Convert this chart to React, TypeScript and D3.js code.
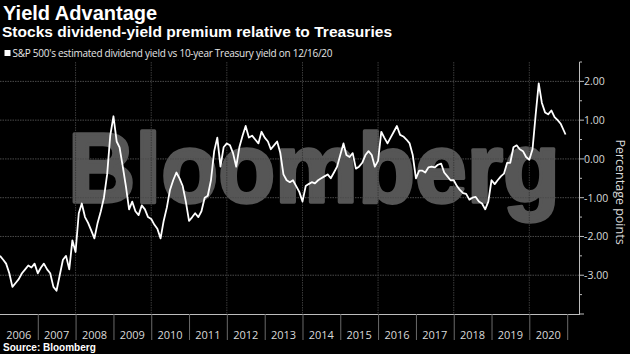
import { useEffect, useRef } from 'react';
import * as d3 from 'd3';

// monthly readings, Jan 2006 .. Dec 2020 (percentage points)
const y2006 = [-2.5, -2.6, -2.7, -2.95, -3.3, -3.2, -3.1, -2.95, -2.85, -2.75, -2.8, -2.7];
const y2007 = [-2.95, -2.8, -2.7, -2.85, -2.95, -3.3, -3.4, -3.0, -2.6, -2.5, -2.85, -2.1];
const y2008 = [-2.4, -1.4, -1.15, -1.5, -1.65, -1.85, -2.05, -1.65, -1.35, -1.0, -0.4, 0.6];
const y2009 = [1.1, 0.45, 0.3, -0.2, -0.7, -1.3, -1.1, -1.35, -1.45, -1.2, -1.3, -1.5];
const y2010 = [-1.55, -1.7, -1.8, -2.05, -1.6, -1.25, -0.8, -0.55, -0.35, -0.5, -0.7, -1.1];
const y2011 = [-1.6, -1.5, -1.4, -1.5, -1.35, -1.0, -0.95, -0.55, 0.2, 0.55, -0.2, 0.3];
const y2012 = [0.4, 0.35, 0.15, -0.2, 0.3, 0.6, 0.85, 0.55, 0.6, 0.5, 0.4, 0.7];
const y2013 = [0.55, 0.45, 0.25, 0.35, 0.45, 0.15, -0.4, -0.55, -0.6, -0.55, -0.7, -0.85];
const y2014 = [-1.1, -0.7, -0.65, -0.6, -0.63, -0.55, -0.5, -0.45, -0.4, -0.5, -0.35, -0.2];
const y2015 = [0.1, 0.4, 0.1, 0.05, 0.15, -0.25, -0.2, -0.1, 0.1, 0.2, 0.1, -0.2];
const y2016 = [-0.05, 0.7, 0.55, 0.4, 0.55, 0.7, 0.85, 0.62, 0.58, 0.5, 0.4, 0.1];
const y2017 = [-0.5, -0.3, -0.3, -0.35, -0.22, -0.2, -0.22, -0.15, -0.12, -0.35, -0.45, -0.55];
const y2018 = [-0.55, -0.7, -0.8, -0.88, -0.9, -1.05, -1.0, -0.98, -1.1, -1.15, -1.3, -1.1];
const y2019 = [-0.55, -0.65, -0.55, -0.45, -0.38, -0.1, -0.1, 0.3, 0.35, 0.25, 0.2, 0.05];
const y2020 = [-0.02, 0.25, 1.1, 1.95, 1.45, 1.2, 1.15, 1.25, 1.08, 1.0, 0.9, 0.72];
const lastValue = 0.63; // 12/16/20

const years = [2006, 2007, 2008, 2009, 2010, 2011, 2012, 2013, 2014, 2015, 2016, 2017, 2018, 2019, 2020];
const yTicks = [-3, -2, -1, 0, 1, 2];

export default function App() {
  const svgRef = useRef(null);

  useEffect(() => {
    const svg = d3.select(svgRef.current);
    svg.selectAll('*').remove();

    const width = 630;
    const height = 354;
    const left = 0, right = 579, top = 62, bottom = 314;

    const monthly = [y2006, y2007, y2008, y2009, y2010, y2011, y2012, y2013, y2014, y2015, y2016, y2017, y2018, y2019, y2020];
    const data = [];
    monthly.forEach((arr, i) => {
      arr.forEach((v, m) => data.push({ date: new Date(years[i], m, 1), value: v }));
    });
    data.push({ date: new Date(2020, 11, 16), value: lastValue });

    const x = d3.scaleTime()
      .domain([new Date(2006, 0, 1), new Date(2021, 3, 25)])
      .range([left, right]);

    const y = d3.scaleLinear()
      .domain([-4, 2.5])
      .range([bottom, top]);

    svg.attr('width', width).attr('height', height);

    svg.append('rect').attr('width', width).attr('height', height).attr('fill', '#000');

    // Titles
    svg.append('text')
      .attr('x', 3).attr('y', 20)
      .attr('fill', '#fff')
      .attr('font-family', 'Liberation Sans, Arial, sans-serif')
      .attr('font-weight', 'bold')
      .attr('font-size', 20)
      .text('Yield Advantage');

    svg.append('text')
      .attr('x', 2).attr('y', 37)
      .attr('fill', '#fff')
      .attr('font-family', 'Liberation Sans, Arial, sans-serif')
      .attr('font-weight', 'bold')
      .attr('font-size', 15.5)
      .attr('textLength', 390)
      .text('Stocks dividend-yield premium relative to Treasuries');

    // Legend
    svg.append('rect')
      .attr('x', 4.5).attr('y', 50).attr('width', 6).attr('height', 6)
      .attr('fill', '#fff');
    svg.append('text')
      .attr('x', 12.5).attr('y', 57)
      .attr('fill', '#e6e6e6')
      .attr('font-family', 'Open Sans, sans-serif')
      .attr('font-size', 10)
      .attr('textLength', 320)
      .text("S&P 500's estimated dividend yield vs 10-year Treasury yield on 12/16/20");

    // Watermark
    svg.append('text')
      .attr('x', 68).attr('y', 202)
      .attr('fill', '#565656')
      .attr('stroke', '#565656')
      .attr('stroke-width', 3.5)
      .attr('stroke-linejoin', 'round')
      .attr('font-family', 'Liberation Sans, Arial, sans-serif')
      .attr('font-weight', 'bold')
      .attr('font-size', 98)
      .attr('textLength', 492)
      .attr('lengthAdjust', 'spacingAndGlyphs')
      .text('Bloomberg');

    // Horizontal grid
    svg.append('g')
      .selectAll('line')
      .data(yTicks)
      .join('line')
      .attr('x1', left).attr('x2', right)
      .attr('y1', d => y(d)).attr('y2', d => y(d))
      .attr('stroke', '#4a4a4a')
      .attr('stroke-width', 1)
      .attr('stroke-dasharray', '1.5,1');

    // Vertical grid (every other year)
    const gridYears = d3.timeYear.every(2).range(new Date(2008, 0, 1), new Date(2021, 0, 1));
    svg.append('g')
      .selectAll('line')
      .data(gridYears)
      .join('line')
      .attr('x1', d => x(d)).attr('x2', d => x(d))
      .attr('y1', top).attr('y2', bottom)
      .attr('stroke', '#3a3a3a')
      .attr('stroke-width', 1)
      .attr('stroke-dasharray', '1.5,1');

    // Line
    const line = d3.line()
      .x(d => x(d.date))
      .y(d => y(d.value));

    svg.append('path')
      .datum(data)
      .attr('fill', 'none')
      .attr('stroke', '#fff')
      .attr('stroke-width', 1.8)
      .attr('stroke-linejoin', 'round')
      .attr('d', line);

    // Right axis
    svg.append('line')
      .attr('x1', right + 0.5).attr('x2', right + 0.5)
      .attr('y1', top).attr('y2', bottom)
      .attr('stroke', '#bdbdbd');

    const minor = d3.range(-4, 2.51, 0.5);
    svg.append('g')
      .selectAll('line')
      .data(minor)
      .join('line')
      .attr('x1', right + 0.5)
      .attr('x2', d => (Number.isInteger(d) ? right + 5 : right + 3))
      .attr('y1', d => y(d)).attr('y2', d => y(d))
      .attr('stroke', '#bdbdbd');

    svg.append('g')
      .selectAll('text')
      .data(yTicks)
      .join('text')
      .attr('x', right + 5)
      .attr('y', d => y(d) + 4)
      .attr('fill', '#d9d9d9')
      .attr('font-family', 'Open Sans, sans-serif')
      .attr('font-size', 10.5)
      .text(d => d3.format('.2f')(d).replace('−', '-'));

    svg.append('text')
      .attr('transform', `translate(616,${(top + bottom) / 2 + 4}) rotate(90)`)
      .attr('text-anchor', 'middle')
      .attr('fill', '#d9d9d9')
      .attr('font-family', 'Open Sans, sans-serif')
      .attr('font-size', 12.5)
      .text('Percentage points');

    // Bottom axis
    svg.append('line')
      .attr('x1', left).attr('x2', right + 1)
      .attr('y1', bottom + 0.5).attr('y2', bottom + 0.5)
      .attr('stroke', '#bdbdbd');

    const yearTicks = d3.timeYear.range(new Date(2007, 0, 1), new Date(2021, 0, 2));
    svg.append('g')
      .selectAll('line')
      .data(yearTicks)
      .join('line')
      .attr('x1', d => x(d) + 0.5).attr('x2', d => x(d) + 0.5)
      .attr('y1', bottom).attr('y2', 340)
      .attr('stroke', '#6a6a6a');

    svg.append('g')
      .selectAll('text')
      .data(years)
      .join('text')
      .attr('x', d => x(new Date(d, 6, 2)))
      .attr('y', 339)
      .attr('text-anchor', 'middle')
      .attr('fill', '#d9d9d9')
      .attr('font-family', 'Open Sans, sans-serif')
      .attr('font-size', 11)
      .text(d => d);

    svg.append('text')
      .attr('x', 3).attr('y', 351)
      .attr('fill', '#fff')
      .attr('font-family', 'Liberation Sans, Arial, sans-serif')
      .attr('font-weight', 'bold')
      .attr('font-size', 10)
      .text('Source: Bloomberg');
  }, []);

  return (
    <div style={{ position: 'absolute', left: 0, top: 0 }}>
      <svg ref={svgRef} style={{ display: 'block' }} />
    </div>
  );
}
